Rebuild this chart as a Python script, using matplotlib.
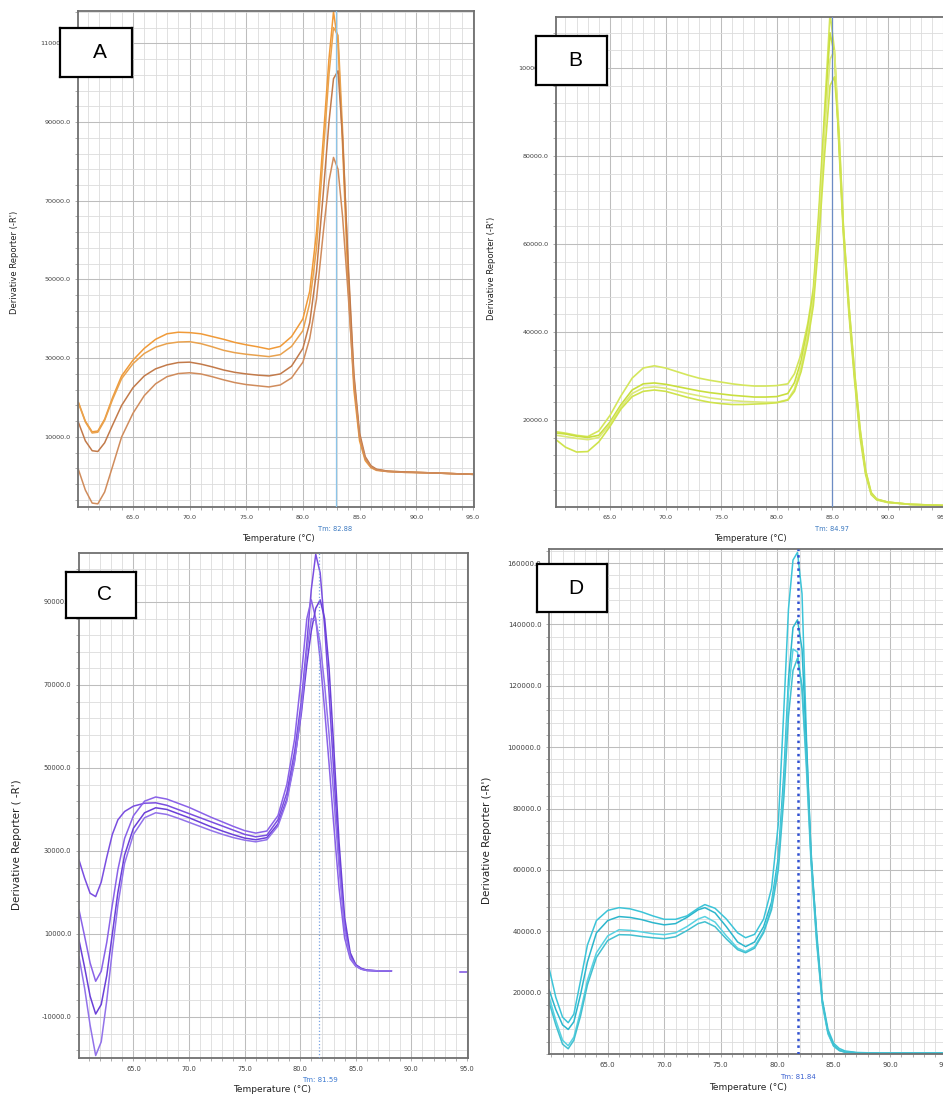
import numpy as np
import matplotlib
matplotlib.use('Agg')
import matplotlib.pyplot as plt
from matplotlib.ticker import FixedLocator, MultipleLocator

W, H = 943, 1095

# ---- panel A : temperature grid and 4 replicate curves ----
TA = [60.2, 60.8, 61.4, 61.9, 62.5, 63.2, 64.0, 65.0, 66.0, 67.0,
      68.0, 69.0, 70.0, 71.0, 72.0, 73.0, 74.0, 75.0, 76.0, 77.0,
      78.0, 79.0, 80.0, 80.6, 81.2, 81.8, 82.3, 82.7, 83.1, 83.5,
      84.0, 84.5, 85.0, 85.5, 86.0, 86.5, 87.5, 89.0, 91.0, 93.0, 95.0]
A1 = [18700, 14000, 11300, 11500, 14500, 20000, 25500, 29500, 32500, 34800,
      36200, 36600, 36500, 36200, 35500, 34800, 34000, 33400, 32900, 32300,
      33000, 35500, 40000, 47000, 62000, 86000, 106000, 118000, 110000, 84000,
      48000, 22000, 9000, 4000, 2200, 1500, 1200, 1000, 900, 700, 500]
A2 = [18500, 13800, 11000, 11200, 14200, 19500, 24800, 28600, 31200, 32800,
      33700, 34100, 34200, 33700, 32900, 32000, 31400, 31000, 30700, 30400,
      30900, 33000, 37000, 44000, 58000, 82000, 102000, 114000, 112000, 88000,
      52000, 25000, 10000, 4500, 2500, 1700, 1300, 1100, 900, 700, 500]
A3 = [13600, 9000, 6500, 6300, 8500, 13000, 18000, 22500, 25500, 27300,
      28300, 28900, 29000, 28500, 27800, 27000, 26400, 26000, 25700, 25500,
      26000, 28000, 32500, 39000, 52000, 72000, 90000, 101000, 103000, 86000,
      54000, 26000, 11000, 5000, 2700, 1800, 1300, 1100, 900, 700, 500]
A4 = [1600, -3500, -6800, -7000, -4000, 2500, 10000, 16000, 20500, 23500,
      25300, 26100, 26300, 26000, 25300, 24500, 23800, 23300, 23000, 22700,
      23200, 25000, 29000, 35000, 45000, 62000, 75000, 81000, 78000, 66000,
      46000, 24000, 10000, 4500, 2400, 1600, 1200, 1000, 900, 700, 500]

# ---- panel B ----
TB = [60.2, 61.0, 62.0, 63.0, 64.0, 65.0, 66.0, 67.0, 68.0, 69.0,
      70.0, 71.0, 72.0, 73.0, 74.0, 75.0, 76.0, 77.0, 78.0, 79.0,
      80.0, 81.0, 81.6, 82.2, 82.8, 83.3, 83.8, 84.3, 84.8, 85.2,
      85.6, 86.0, 86.5, 87.0, 87.5, 88.0, 88.5, 89.0, 90.0, 92.0, 95.5]
B1 = [17300, 17000, 16500, 16200, 17500, 21000, 25500, 29500, 31800, 32300,
      31800, 31000, 30200, 29500, 29000, 28600, 28200, 27900, 27700, 27700,
      27800, 28200, 30500, 35000, 42000, 50000, 68000, 90000, 112500, 104000,
      82000, 62000, 44000, 29000, 16000, 7500, 3000, 1800, 1200, 800, 500]
B2 = [17000, 16800, 16300, 16000, 16500, 19500, 23500, 26800, 28200, 28400,
      28100, 27600, 27100, 26600, 26200, 25900, 25600, 25400, 25200, 25200,
      25300, 26000, 28500, 33500, 41000, 49000, 66000, 88000, 108000, 103000,
      83000, 63000, 45000, 30000, 17000, 8000, 3200, 1900, 1300, 800, 500]
B3 = [16500, 16200, 15800, 15500, 16000, 19000, 23000, 26000, 27300, 27500,
      27200, 26600, 26000, 25500, 25000, 24700, 24400, 24200, 24100, 24000,
      24000, 24600, 27000, 32000, 39500, 47500, 64000, 85000, 102000, 104000,
      86000, 64000, 46000, 31000, 18000, 8500, 3400, 2000, 1300, 800, 500]
B4 = [15400, 13800, 12700, 12800, 15000, 18500, 22500, 25300, 26500, 26800,
      26500, 25800, 25100, 24500, 24000, 23700, 23500, 23500, 23600, 23700,
      23900, 24500, 26500, 31000, 38000, 46000, 61000, 80000, 96000, 98000,
      85000, 64000, 46000, 31000, 18000, 8500, 3500, 2000, 1300, 800, 500]

# ---- panel C ----
TC = [60.1, 60.6, 61.1, 61.6, 62.1, 62.6, 63.1, 63.6, 64.2, 65.0,
      66.0, 67.0, 68.0, 69.0, 70.0, 71.0, 72.0, 73.0, 74.0, 75.0,
      76.0, 77.0, 78.0, 78.8, 79.5, 80.1, 80.6, 81.0, 81.4, 81.8,
      82.2, 82.6, 83.0, 83.5, 84.0, 84.5, 85.0, 85.5, 86.0, 87.0, 88.2]
C1 = [27800, 23500, 19800, 19000, 22500, 28500, 34000, 37500, 39500, 40800,
      41500, 41600, 41000, 40000, 39000, 38000, 37000, 36000, 35000, 34000,
      33400, 33800, 37500, 44000, 54000, 66000, 80000, 93000, 101500, 97000,
      84000, 68000, 50000, 28000, 12000, 5000, 2500, 1600, 1200, 1100, 1100]
C2 = [15800, 9500, 3000, -1400, 1000, 8000, 17000, 25500, 33000, 38500,
      42000, 43000, 42500, 41500, 40500, 39300, 38100, 37000, 35900, 34900,
      34300, 34800, 38500, 46000, 57000, 72000, 86000, 90500, 86000, 76000,
      64000, 51000, 37000, 21000, 9000, 4000, 2200, 1500, 1200, 1100, 1100]
C3 = [8500, 2000, -5000, -9300, -7000, 0, 10000, 20000, 29000, 35500,
      39200, 40400, 40000, 39000, 38000, 36900, 35800, 34800, 33900, 33100,
      32700, 33200, 36500, 42500, 52000, 63000, 75000, 83000, 88500, 90500,
      86000, 74000, 56000, 32000, 14000, 5500, 2600, 1700, 1300, 1100, 1100]
C4 = [4500, -3000, -12000, -19300, -16000, -6000, 6000, 17000, 27000, 34000,
      38000, 39200, 38800, 37900, 36900, 35900, 34900, 34000, 33200, 32600,
      32200, 32700, 36000, 42000, 51500, 64000, 78000, 86000, 85500, 80000,
      70000, 58000, 44000, 26000, 11000, 4500, 2300, 1500, 1200, 1100, 1100]
TC_tail = [94.4, 95.0]
C_tail = [900, 900]

# ---- panel D ----
TD = [59.8, 60.4, 61.0, 61.5, 62.0, 62.6, 63.2, 64.0, 65.0, 66.0,
      67.0, 68.0, 69.0, 70.0, 71.0, 72.0, 73.0, 73.6, 74.5, 75.5,
      76.5, 77.2, 78.0, 78.8, 79.5, 80.1, 80.6, 81.0, 81.4, 81.8,
      82.2, 82.6, 83.0, 83.5, 84.0, 84.5, 85.0, 85.5, 86.0, 87.0,
      89.0, 92.0, 95.3]
D1 = [28100, 18500, 12000, 10200, 13000, 24000, 35500, 43500, 46800, 47700,
      47300, 46300, 45000, 43900, 43900, 45000, 47500, 48700, 47500, 44000,
      39500, 37900, 39000, 44000, 54000, 75000, 113000, 145000, 161000, 163500,
      150000, 102000, 64000, 39500, 17700, 8000, 3500, 1800, 1000, 500,
      300, 300, 300]
D2 = [21000, 14500, 9500, 8000, 10500, 19500, 30000, 39500, 43500, 44800,
      44500, 43800, 42800, 42100, 42500, 44500, 47000, 47700, 46000, 41500,
      36500, 35000, 36500, 41500, 49500, 64000, 92000, 122000, 139000, 141500,
      132000, 100000, 66000, 38000, 17000, 7000, 2800, 1200, 700, 400,
      300, 300, 300]
D3 = [18700, 11000, 4500, 2700, 5500, 14000, 24000, 33000, 38500, 40500,
      40300, 39800, 39200, 38900, 39500, 41500, 44000, 44800, 43000, 38500,
      34500, 33400, 35000, 40000, 48000, 62000, 88000, 118000, 132000, 131000,
      118000, 92000, 62000, 36000, 16000, 6500, 2500, 1100, 600, 400,
      300, 300, 300]
D4 = [17000, 9500, 3200, 1700, 4500, 12500, 22500, 31500, 37000, 38900,
      38800, 38300, 37900, 37600, 38200, 40200, 42500, 43100, 41500, 37500,
      34000, 33000, 34500, 39500, 47000, 60000, 84000, 110000, 125000, 129000,
      120000, 95000, 64000, 37000, 17000, 7000, 2700, 1200, 600, 400,
      300, 300, 300]

XTICKS = [65, 70, 75, 80, 85, 90, 95]


def px(l, t, r, b):
    return [l / W, 1 - b / H, (r - l) / W, (b - t) / H]


def panel(rect, xlim, ylim, yticks, ygrid, tfs, tm, tmcolor, tmstyle):
    ax = fig.add_axes(px(*rect))
    ax.set_xlim(*xlim)
    ax.set_ylim(*ylim)
    ax.set_xticks(XTICKS)
    ax.set_xticklabels(['%.1f' % v for v in XTICKS])
    ax.set_yticks(yticks)
    ax.set_yticklabels(['%.1f' % v for v in yticks])
    ax.xaxis.set_minor_locator(MultipleLocator(1))
    ax.yaxis.set_minor_locator(FixedLocator(ygrid))
    ax.grid(which='major', color='#bdbdbd', lw=0.75)
    ax.grid(which='minor', color='#dcdcdc', lw=0.6)
    ax.set_axisbelow(True)
    ax.tick_params(which='both', length=2.5, width=0.6, color='#a0a0a0',
                   labelsize=tfs, labelcolor='#404040', pad=3)
    for s in ax.spines.values():
        s.set_color('#707070')
        s.set_linewidth(1.3)
    ax.axvline(tm, color=tmcolor, lw=0.9, ls=tmstyle, zorder=3)
    return ax


def label_box(rect, letter):
    bx = fig.add_axes(px(*rect))
    bx.set_xticks([])
    bx.set_yticks([])
    for s in bx.spines.values():
        s.set_color('black')
        s.set_linewidth(1.6)
    bx.text(0.55, 0.5, letter, ha='center', va='center', fontsize=15,
            family='Liberation Sans', transform=bx.transAxes)


def ftext(x, y, s, **kw):
    fig.text(x / W, 1 - y / H, s, ha='center', va='center', **kw)


fig = plt.figure(figsize=(W / 100, H / 100), dpi=100)
fig.patch.set_facecolor('white')

# A
ax = panel((78, 11, 474, 507), (60.15, 95.1), (-7800, 118200),
           list(range(10000, 110001, 20000)), np.arange(-6000, 118001, 4000),
           4.6, 82.88, '#8cc4e8', '-')
for y, c in zip([A1, A2, A3, A4], ['#f09a38', '#e9a24e', '#c27a4a', '#d08c5c']):
    ax.plot(TA, y, color=c, lw=1.1)
ftext(335, 529, 'Tm: 82.88', fontsize=4.8, color='#3a78c0')
ftext(278, 539, 'Temperature (\u00b0C)', fontsize=6, color='#222222')
ftext(15, 262, "Derivative Reporter (-R')", fontsize=6, rotation=90, color='#222222')

# B
ax = panel((556, 17, 949, 507), (60.15, 95.5), (200, 111600),
           list(range(20000, 100001, 20000)), np.arange(0, 111601, 4000),
           4.6, 84.97, '#6c8cc4', '-')
for y, c in zip([B1, B2, B3, B4], ['#d4e65c', '#c9df3e', '#dce97a', '#cfe34c']):
    ax.plot(TB, y, color=c, lw=1.2)
ftext(832, 529, 'Tm: 84.97', fontsize=4.8, color='#3a78c0')
ftext(750, 539, 'Temperature (\u00b0C)', fontsize=6, color='#222222')
ftext(492, 268, "Derivative Reporter (-R')", fontsize=6, rotation=90, color='#222222')

# C
ax = panel((79, 553, 468, 1058), (60.1, 95.1), (-19900, 101800),
           list(range(-10000, 90001, 20000)), np.arange(-18000, 101801, 4000),
           4.8, 81.69, '#7aa4e4', ':')
for y, c in zip([C1, C2, C3, C4], ['#7a4ee0', '#8a62e8', '#6b40d8', '#9272ea']):
    ax.plot(TC, y, color=c, lw=1.1)
ax.plot(TC_tail, C_tail, color='#7a4ee0', lw=1.1)
ftext(320, 1080, 'Tm: 81.59', fontsize=5, color='#3a78d0')
ftext(272, 1090, 'Temperature (\u00b0C)', fontsize=6.5, color='#222222')
ftext(17, 845, "Derivative Reporter ( -R')", fontsize=7.5, rotation=90, color='#222222')

# D
ax = panel((549, 549, 950, 1054), (59.8, 95.3), (0, 164600),
           list(range(20000, 160001, 20000)), np.arange(0, 164601, 4000),
           5.0, 81.8, '#3050d0', ':')
ax.lines[-1].set_linewidth(1.8)
for y, c in zip([D1, D2, D3, D4], ['#3cc4d8', '#2cb6cc', '#58d2e2', '#42c0d0']):
    ax.plot(TD, y, color=c, lw=1.1)
ftext(798, 1077, 'Tm: 81.84', fontsize=5, color='#3a60d0')
ftext(748, 1087, 'Temperature (\u00b0C)', fontsize=6.5, color='#222222')
ftext(487, 840, "Derivative Reporter (-R')", fontsize=7.5, rotation=90, color='#222222')

# letter boxes
label_box((60, 28, 132, 77), 'A')
label_box((536, 36, 607, 85), 'B')
label_box((66, 572, 136, 618), 'C')
label_box((537, 564, 607, 612), 'D')

fig.savefig('out.png', dpi=100)
